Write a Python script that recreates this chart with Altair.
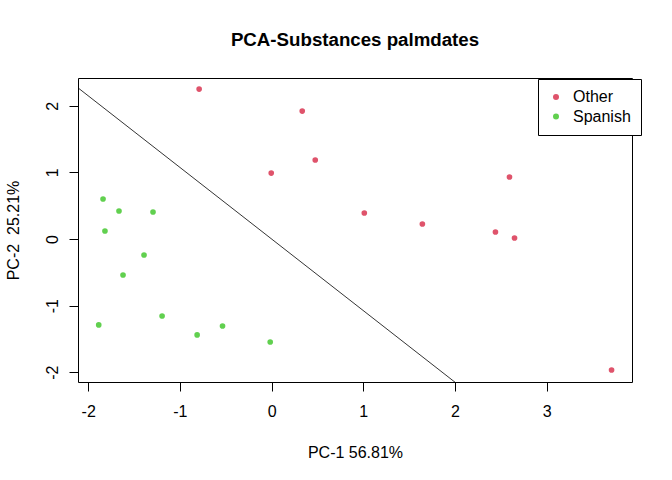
import altair as alt
import pandas as pd

# Data
pc1 = [-0.79, 0.334, 0.476, -0.004, 1.011, 1.644, 2.594, 2.441, 2.649, 3.707,
       -1.838, -1.664, -1.293, -1.817, -1.391, -1.620, -1.885, -1.194, -0.812, -0.535, -0.015]
pc2 = [2.25, 1.92, 1.186, 0.99, 0.39, 0.225, 0.93, 0.105, 0.015, -1.967,
       0.60, 0.42, 0.405, 0.12, -0.24, -0.54, -1.29, -1.156, -1.44, -1.306, -1.547]
group = ["Other"] * 10 + ["Spanish"] * 11

groups = ["Other", "Spanish"]
group_colors = ["#DF536B", "#61D04F"]

x_domain = [-2.111, 3.930]
y_domain = [-2.147, 2.417]
x_ticks = [-2, -1, 0, 1, 2, 3]
y_ticks = [-2, -1, 0, 1, 2]

# separating line y = slope * x + intercept
line_slope = -1.075
line_intercept = 0.0

FONT = "Liberation Sans"

df = pd.DataFrame({"pc1": pc1, "pc2": pc2, "group": group})
line_x = [x_domain[0] - 0.2, x_domain[1] + 0.2]
line_df = pd.DataFrame({"x": line_x, "y": [line_slope * v + line_intercept for v in line_x]})

xscale = alt.Scale(domain=x_domain, nice=False, zero=False)
yscale = alt.Scale(domain=y_domain, nice=False, zero=False)

xaxis = alt.Axis(values=x_ticks, labelExpr="'' + datum.value", title="PC-1 56.81%",
                 grid=False, domain=False,
                 tickColor="black", tickSize=9, tickWidth=1,
                 labelFont=FONT, labelFontSize=16, labelColor="black",
                 labelBaseline="alphabetic", labelPadding=25.5, labelFlush=False,
                 titleFont=FONT, titleFontSize=16, titleFontWeight="normal", titleColor="black",
                 titleBaseline="alphabetic", titleY=75, titleX=277)
yaxis = alt.Axis(values=y_ticks, labelExpr="'' + datum.value", title="PC-2\u00a0 25.21%",
                 grid=False, domain=False,
                 tickColor="black", tickSize=9, tickWidth=1,
                 labelFont=FONT, labelFontSize=16, labelColor="black",
                 labelAngle=270, labelAlign="center", labelBaseline="alphabetic",
                 labelPadding=12, labelFlush=False,
                 titleFont=FONT, titleFontSize=16, titleFontWeight="normal", titleColor="black",
                 titleAngle=270, titleAlign="center", titleBaseline="alphabetic",
                 titleX=-59.5, titleY=152)

points = alt.Chart(df).mark_circle(size=32, opacity=1).encode(
    x=alt.X("pc1:Q", scale=xscale, axis=xaxis),
    y=alt.Y("pc2:Q", scale=yscale, axis=yaxis),
    color=alt.Color("group:N", scale=alt.Scale(domain=groups, range=group_colors),
                    legend=alt.Legend(title=None, orient="none", legendX=460, legendY=1,
                                      strokeColor="black", fillColor="white", padding=10,
                                      cornerRadius=0, rowPadding=3.5,
                                      symbolType="circle", symbolSize=36, symbolStrokeWidth=0,
                                      labelFont=FONT, labelFontSize=16, labelColor="black",
                                      labelOffset=9)),
)

line = alt.Chart(line_df).mark_line(color="black", strokeWidth=0.8, clip=True).encode(
    x=alt.X("x:Q", scale=xscale),
    y=alt.Y("y:Q", scale=yscale),
)

chart = alt.layer(line, points).properties(
    width=554, height=304,
    title=alt.TitleParams("PCA-Substances palmdates", font=FONT, fontSize=18.7,
                          fontWeight="bold", color="black", anchor="middle",
                          baseline="alphabetic", offset=13),
    autosize=alt.AutoSizeParams(type="none"),
    padding={"left": 78, "top": 78, "right": 40, "bottom": 98},
).configure(background="white", view=alt.ViewConfig(stroke="black", strokeWidth=1))

chart.save("out.html", embed_options={"renderer": "svg", "actions": False})
